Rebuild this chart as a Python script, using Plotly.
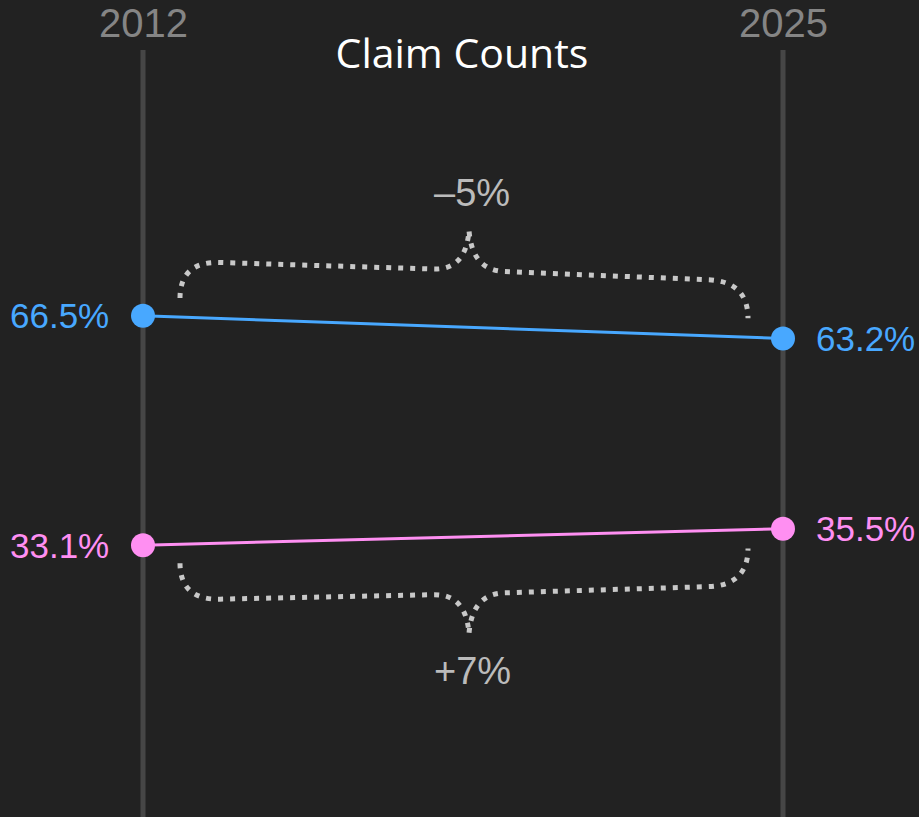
import plotly.graph_objects as go

# ---- data ----
years = [2012, 2025]
series_names = ["Series A", "Series B"]
series_a = [66.5, 63.2]
series_b = [33.1, 35.5]
series_values = [series_a, series_b]
series_colors = ["#48a8ff", "#ff8ff2"]
title_text = "Claim Counts"

# ---- layout constants ----
W, H = 919, 817
BG = "#222222"
ppy = 640 / 13.0                 # pixels per year
x_lo = years[0] - 143 / ppy
x_hi = x_lo + W / ppy
ppv = 6.868                      # pixels per percentage point
y_hi = 49.575 + 432 / ppv
y_lo = 49.575 - (H - 432) / ppv


def to_px(x, y):
    return ((x - x_lo) * ppy, (y_hi - y) * ppv)


def to_data(px, py):
    return (x_lo + px / ppy, y_hi - py / ppv)


def brace(vals, side):
    """side=-1: brace above the line, side=+1: below (pixel sense)."""
    xa, ya = to_px(years[0], vals[0])
    xb, yb = to_px(years[1], vals[1])
    slope = (yb - ya) / (xb - xa)
    x0, x1 = xa + 37, xb - 35
    xm = (x0 + x1) / 2 + 5

    def P(x, off):
        py = ya + slope * (x - xa) + side * off
        dx, dy = to_data(x, py)
        return f"{dx:.5f},{dy:.5f}"

    e, b, pk = 19, 56, 97
    path = (f"M {P(x0, e)} C {P(x0, 42)} {P(x0 + 12, b)} {P(x0 + 40, b)} "
            f"L {P(xm - 36, b + 1)} C {P(xm - 14, b + 1)} {P(xm - 2, b + 14)} {P(xm, pk)} "
            f"C {P(xm + 2, b + 14)} {P(xm + 14, b + 1)} {P(xm + 36, b + 1)} "
            f"L {P(x1 - 40, b)} C {P(x1 - 12, b)} {P(x1, 42)} {P(x1, e)}")
    peak_py = ya + slope * (xm - xa) + side * pk
    lab = to_data(xm + 3, peak_py + side * 37)
    return path, lab


fig = go.Figure()

for name, vals, col in zip(series_names, series_values, series_colors):
    fig.add_trace(go.Scatter(
        x=years, y=vals, mode="lines+markers", name=name,
        line=dict(color=col, width=3),
        marker=dict(size=24, color=col, line=dict(width=0)),
        hoverinfo="skip", showlegend=False))
    fig.add_annotation(x=years[0], y=vals[0], text=f"{vals[0]:.1f}%",
                       xanchor="right", yanchor="middle", xshift=-32, showarrow=False,
                       font=dict(family="Liberation Sans, Arial", size=35, color=col))
    fig.add_annotation(x=years[1], y=vals[1], text=f"{vals[1]:.1f}%",
                       xanchor="left", yanchor="middle", xshift=31, showarrow=False,
                       font=dict(family="Liberation Sans, Arial", size=35, color=col))

# vertical year rules and labels
for yr in years:
    fig.add_shape(type="line", xref="x", yref="paper", x0=yr, x1=yr,
                  y0=0, y1=(H - 50) / H, layer="below",
                  line=dict(color="#464646", width=5))
    fig.add_annotation(x=yr, xref="x", y=1 - 23 / H, yref="paper", text=str(yr),
                       showarrow=False, xanchor="center", yanchor="middle",
                       font=dict(family="Liberation Sans, Arial", size=40, color="#858585"))

# braces with relative change
for vals in series_values:
    change = (vals[1] - vals[0]) / vals[0] * 100
    side = -1 if vals[1] < vals[0] else 1
    path, lab = brace(vals, side)
    fig.add_shape(type="path", xref="x", yref="y", path=path,
                  line=dict(color="#c8c8c8", width=5, dash="5px,7px"))
    txt = ("+" if change >= 0 else "\u2013") + f"{abs(change):.0f}%"
    fig.add_annotation(x=lab[0], y=lab[1], text=txt, showarrow=False,
                       xanchor="center", yanchor="middle",
                       font=dict(family="Liberation Sans, Arial", size=38, color="#bbbbbb"))

fig.update_layout(
    width=W, height=H,
    margin=dict(l=0, r=0, t=0, b=0),
    paper_bgcolor=BG, plot_bgcolor=BG,
    title=dict(text=title_text, x=462 / W, xanchor="center", y=1 - 54 / H, yanchor="middle",
               font=dict(family="Open Sans", size=41, color="#ffffff")),
    xaxis=dict(range=[x_lo, x_hi], visible=False, fixedrange=True),
    yaxis=dict(range=[y_lo, y_hi], visible=False, fixedrange=True),
)

fig.write_html("out.html", config={"displayModeBar": False},
               post_script="document.body.style.margin='0';document.body.style.background='#222222';")
